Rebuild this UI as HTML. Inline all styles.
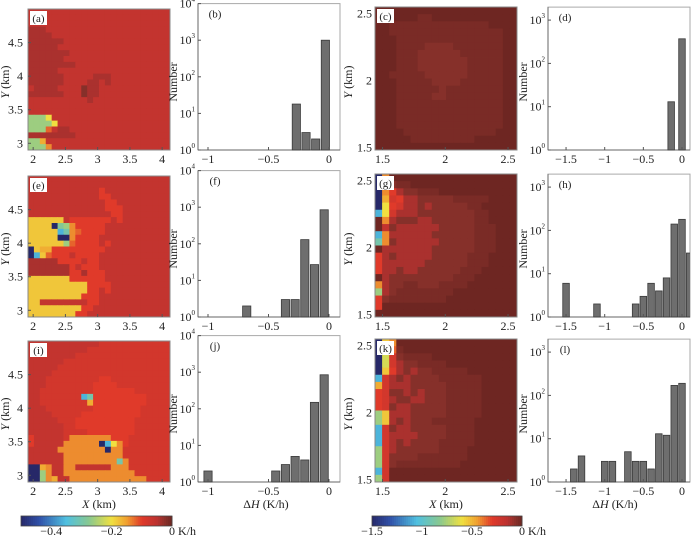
<!DOCTYPE html>
<html><head><meta charset="utf-8"><style>
html,body{margin:0;padding:0;background:#fff}
svg{display:block;font-family:"Liberation Serif","DejaVu Serif",serif}
svg text{font-family:"Liberation Serif","DejaVu Serif",serif}
</style></head><body>
<svg id="fig" width="700" height="537" viewBox="0 0 700 537" xmlns="http://www.w3.org/2000/svg" font-family="Liberation Serif, DejaVu Serif, serif">
<defs>
<clipPath id="clipL"><rect x="198" y="0" width="142" height="537"/></clipPath>
<clipPath id="clipR"><rect x="548" y="0" width="142" height="537"/></clipPath>
</defs>
</svg>
<script>
// ---------- data ----------
const mapA = ["wwwwwwwwwwwwwwwwwwwwwwww","wwwwwwwwwwwwwwwwwwwwwwww","wwwwwwwwwwwwwwwwwwwwwwww","xxxwwwwwwwwwwwwwwwwwwwww","xxxxwwwwwwwwwwwwwwwwwwww","xxxxxxwwwwwwwwwwwwwwwwww","xxxxxwwwwwwwwwwwwwwwwwww","xxxxxxxwwwwwwwwwwwwwwwww","xxxxxxwwwwwwwwwwwwwwwwww","xxxxxxxxwwwwwwwwwwwwwwww","xxxxxwwwwwwwwwwwwwwwwwww","xxxxxxwwwwwxxxwwwwwwwwww","xxxxxxwwwwxxwxwwwwwwwwww","wxxxxwwwwyxxwwwwwwwwwwww","xxxxxxwwwyxxwwwwwwwwwwww","wwwwwwwwwwxwwwwwwwwwwwww","wwwwwwwwwwwwwwwwwwwwwwww","wwwwwwwwwwwwwwwwwwwwwwww","mmmpwwwwwwwwwwwwwwwwwwww","mmmmpwwwwwwwwwwwwwwwwwww","mmmtwxxwwwwwwwwwwwwwwwww","xxxxxxxxwwwwwwwwwwwwwwww","mmrwwwwwwwwwwwwwwwwwwwww","mmmswwwwwwwwwwwwwwwwwwww"];
const mapE = ["wwwwwwwwwwwwwwwwwwwwwwww","wwwwwwwwwwwwwwwwwwwwwwww","wwwwwwwwwwwwuwwwwwwwwwww","wwwwwwwwwwwwuuwwwwwwwwww","wwwwwwwwwwwwwuuwwwwwwwww","wwwwwwwwwwwwwuuuwwwwwwww","wwwwwwwwwwwwwwuuwwwwwwww","qqqqqqwuuuuuuuwuwwwwwwww","qqqqalmsuuuuuwwwwwwwwwww","qqqqqhkstuuuuwwwwwwwwwww","qqqqqaasuuuuwwwwwwwwwwww","qqqqqqmtuuuuwuwwwwwwwwww","aqrruuuuuuuuuwwwwwwwwwww","ahqtuuuwuuuuwwwwwwwwwwww","xxxxxuuuuwuuwwwwwwwwwwww","xxxxxxxuwuuuwwwwwwwwwwww","xxxxxxxuuxuuuwwwwwwwwwww","qqqqqqquuuuuuwwwwwwwwwww","qqqqqqqqqquuuuwwwwwwwwww","qqqqqqqqqquuwuwwwwwwwwww","qqqqqqqqquuuwwwwwwwwwwww","qqwwwwwwwwuuwwwwwwwwwwww","qqqqqqqqquuwwwwwwwwwwwww","qqqqqqqquuwwwwwwwwwwwwww"];
const mapI = ["wwwwwwwwwwwwvvvvvvvvvvvv","wwwwwwwwwwvvvvvvvvvvvvvv","wwwwwwwwvvvvvvvvvvvvvvvv","wwwwwwvvvvvvvvvvvvvvvvvv","wwwwwvvvvvvvvvvvvvvvvvvv","wwwwvvvvvvvvvvvvvvvvvvvv","wwwvvvvvvvvvuuvvvvvvvvvv","wwwvvvvvvvvuuuuvvvvvvvvv","wwvvvvvvvvvuuuuuuuvvvvvv","wwvvvvvvvhkuuuuuuuuuvvvv","wwvvvvvvvvruuuuuuuuuvvvv","wwwvvvvvvvvuuuuuuuuvvvvv","wwwwvvvvvuuuuuuuuuuvvvvv","wwwwwvvvuuuuuuuuuuvvvvvv","wwwwwwvvuuuuuuuuuuvvvvvv","wwwwwwvvvvuuuuuuuuvvvvvv","uwwwwwvsssssssuuuvvvvvvv","uwwwwwssssssahpsuvvvvvvv","wwwwwssssssssassvvvvvvvv","wwwwwwssssssssssvvvvvvvv","wwwwwwsssssssssksvvvvvvv","aarswwsswwwwwwsssvvvvvvv","aamswwssssssssssssvvvvvv","aamsrwwsssssssssssssvvvv"];
const mapC = ["zzzzzzzzzzzzzzzzzzzz","zzzzzzYYzzzzzzzzzzzz","zzYYYYYYYYYYYYYYzzzz","zzYYYYYYYYYYYYYYYYzz","zzzYYYYYYYYYYYYYYYzz","zzzYYYYyyyyYYYYYYYzz","zzzYYYyyyyyyYYYYYYzz","zzzYYYyyyyyyyYYYYYzz","zzzYYYyyyyyyyYYYYYzz","zzYYYYYyyyyyyYYYYYzz","zzzYYYYYyyyyYYYYYYzz","zzzYYYYYYyYYYYYYYYzz","zzzYYYYYyyYYYYYYYYzz","zzzYYYYYYYYYYYYYYYzz","zzzYYYYYYYYYYYYYYYzz","zzzYYYYYYYYYYYYYYYzz","zzzYYYYYYYYYYYYYYYzz","zzzzYYYYYYYYYYYYYzzz","zzzzzYYYYYYYYYzzzzzz","zzzzzzzzzzzzzzzzzzzz"];
const mapG = ["aszzzzzzzzzzzzzzzzzz","asyYYzzzzzzzzzzzzzzz","asuxyyYYYzzzzzzzzzzz","arvuxxyyyyyYYYYYzzzz","apuvxxyxyyyyyYYzzzzz","hpvxxxyyyyyyyyYYzzzz","zsxyyyxxyyyyyyYYzzzz","zwyxxxxxxyyyyyYYYzzz","hsxxxxxxyyyyyyYYYzzz","ksyxxxxxxyyyyyYYYzzz","zxxxxxxxyyyyyyYYYzzz","uxyxxxxxyyyyyYYYzzzz","uxxxxxxyyyyyyYYYzzzz","uxxyxxyyyyyyYYYzzzzz","zxyyyyyyyyyYYYzzzzzz","sxyyYYyyyYYYYzzzzzzz","mxyYYYYYYYYzzzzzzzzz","uyYYYYYYYYzzzzzzzzzz","uzzzzzzzzzzzzzzzzzzz","zzzzzzzzzzzzzzzzzzzz"];
const mapK = ["aqszzzzzzzzzzzzzzzzz","aotYzzzzzzzzzzzzzzzz","aovyYYYYzzzzzzzzzzzz","aovxyyYYYYzzzzzzzzzz","aquxyxyyYYYYYzzzzzzz","hvxyxyyyyYYYYYYzzzzz","rvxxxyyyyyYYYYYzzzzz","uvyyxyxyyyYYYYYzzzzz","uvxyyxxyyyYYYYYzzzzz","uvyxxyyyyyYYYYYzzzzz","mqxxxyyyyyYYYYYzzzzz","mqxyxyyyYYYYYYzzzzzz","hvyxxyyyyyYYYYzzzzzz","hvxxxxyyyyYYYYzzzzzz","hvxyxyyyyYYYYYzzzzzz","mvxyyyyyyYYYYzzzzzzz","mvyyyyYYYYYYYzzzzzzz","mvyYYYYYYYYYzzzzzzzz","hvzzzzzzzzzzzzzzzzzz","mvzzzzzzzzzzzzzzzzzz"];

const binsB = [-0.27,-0.19,-0.11,-0.03];
const countsB = [18,3,2,1000];
const binsF = [-0.68,-0.36,-0.28,-0.20,-0.12,-0.04];
const countsF = [2,3,3,130,27,850];
const binsJ = [-1.0,-0.44,-0.36,-0.28,-0.20,-0.12,-0.04];
const countsJ = [2,2,3,5,4,150,850];
const binsD = [-0.14,0.0];
const countsD = [13,370];
const binsH = [-1.5,-1.1,-0.6,-0.5,-0.4,-0.3,-0.2,-0.1,0.0,0.1];
const countsH = [6,2,2,3,6,4,8,140,180,30];
const binsL = [-1.4,-1.3,-1.0,-0.9,-0.7,-0.6,-0.5,-0.4,-0.3,-0.2,-0.1,0.0];
const countsL = [2,4,3,3,5,3,3,2,13,12,170,190];

const tickLeftMapX = [2,2.5,3,3.5,4];
const tickLeftMapY = [3,3.5,4,4.5];
const tickRightMapX = [1.5,2,2.5];
const tickRightMapY = [1.5,2,2.5];
const tickLeftHistX = [-1,-0.5,0];
const tickRightHistX = [-1.5,-1,-0.5,0];
const cbLeftTicks = [-0.4,-0.2,0];
const cbRightTicks = [-1.5,-1,-0.5,0];

// ---------- helpers ----------
const NS = "http://www.w3.org/2000/svg";
const svg = document.getElementById("fig");
const FF = "Liberation Serif, DejaVu Serif, serif";
function el(tag, attrs, parent){
  const e = document.createElementNS(NS, tag);
  for (const k in attrs) e.setAttribute(k, attrs[k]);
  (parent||svg).appendChild(e); return e;
}
const stops = [[0,[38,40,104]],[0.12,[48,80,168]],[0.3,[80,192,224]],[0.45,[136,200,144]],[0.6,[240,224,64]],[0.7,[240,160,48]],[0.8,[224,58,42]],[0.9,[188,50,48]],[0.96,[134,48,42]],[1,[110,38,34]]];
function cmap(t){
  t=Math.max(0,Math.min(1,t));
  for(let i=1;i<stops.length;i++){
    if(t<=stops[i][0]){
      const a=stops[i-1],b=stops[i],f=(t-a[0])/(b[0]-a[0]);
      const c=a[1].map((v,j)=>Math.round(v+(b[1][j]-v)*f));
      return "rgb("+c.join(",")+")";
    }
  }
  return "rgb(110,38,34)";
}
function charT(ch){
  const code=ch.charCodeAt(0);
  if(code>=97) return (code-97)/25;
  return Math.min(1,(code-65+0.5)/25);
}
function fmt(v){ return (v<0?"\u2212":"")+String(Math.abs(v)); }
function text(x,y,s,anchor,size,parent){
  const t=el("text",{x:x,y:y,"text-anchor":anchor||"middle","font-size":size||12,fill:"#222","font-family":FF},parent);
  t.textContent=s; return t;
}

const rowsB = [150,317,482];
const heat = [[mapA,mapE,mapI],[mapC,mapG,mapK]];
const hist = [[[binsB,countsB],[binsF,countsF],[binsJ,countsJ]],[[binsD,countsD],[binsH,countsH],[binsL,countsL]]];
const labels = [["a","e","i"],["b","f","j"],["c","g","k"],["d","h","l"]];

// ---------- heatmaps ----------
function drawHeat(map, x0, w, B, h, name, label){
  const g=el("g",{});
  
  
  const nr=map.length, nc=map[0].length;
  const cw=w/nc, ch=h/nr;
  for(let r=0;r<nr;r++) for(let c=0;c<nc;c++){
    el("rect",{x:(x0+c*cw).toFixed(2),y:(B-h+r*ch).toFixed(2),width:(cw+0.4).toFixed(2),height:(ch+0.4).toFixed(2),fill:cmap(charT(map[r][c]))},g);
  }
  el("rect",{x:x0,y:B-h,width:w,height:h,fill:"none",stroke:"#888","stroke-width":1},g);
  el("rect",{x:x0+2,y:B-h+2,width:17,height:14,fill:"#fff"},g);
  text(x0+10.5,B-h+13,"("+label+")","middle",11,g);
}
function lmx(v){ return 28+(v-1.92)*64.5; }
function lmy(v,B){ return B-(v-2.9)*67.1; }
function rmx(v){ return 375+(v-1.44)*125.5; }
function rmy(v,B){ return B-(v-1.48)*134; }
for(let i=0;i<3;i++){
  const B=rowsB[i];
  drawHeat(heat[0][i],28,142,B,141,"heatmap-"+labels[0][i],labels[0][i]);
  drawHeat(heat[1][i],375,142,B,143,"heatmap-"+labels[2][i],labels[2][i]);
  const ga=el("g",{});
  
  
  tickLeftMapX.forEach(v=>{ text(lmx(v),B+13,String(v),"middle",12,ga); el("line",{x1:lmx(v),x2:lmx(v),y1:B,y2:B-3,stroke:"#555"},ga); });
  tickLeftMapY.forEach(v=>{ text(23,lmy(v,B)+4,String(v),"end",12,ga); el("line",{x1:28,x2:31,y1:lmy(v,B),y2:lmy(v,B),stroke:"#555"},ga); });
  const yl=text(0,0,"","middle",12,ga);
  yl.setAttribute("transform","translate(9,"+(B-68)+") rotate(-90)");
  yl.innerHTML='<tspan font-style="italic">Y</tspan> (km)';
  const gb=el("g",{});
  
  
  tickRightMapX.forEach(v=>{ text(rmx(v),B+13,String(v),"middle",12,gb); el("line",{x1:rmx(v),x2:rmx(v),y1:B,y2:B-3,stroke:"#555"},gb); });
  tickRightMapY.forEach(v=>{ text(372,rmy(v,B)+4,String(v),"end",12,gb); });
  const yl2=text(0,0,"","middle",12,gb);
  yl2.setAttribute("transform","translate(352,"+(B-68)+") rotate(-90)");
  yl2.innerHTML='<tspan font-style="italic">Y</tspan> (km)';
}
["x-axis-title-left-map","x-axis-title-right-map"].forEach((n,k)=>{
  const t=text(k?446:99,508,"","middle",12);
  t.innerHTML='<tspan font-style="italic">X</tspan>  (km)';
  
  
});

// ---------- histograms ----------
function drawHist(bins, counts, x0, zeroX, pxu, B, dec, ndec, bw, name, label, clip, xt){
  const g=el("g",{});
  
  
  const top=B-ndec*dec;
  el("rect",{x:x0,y:top,width:142,height:B-top,fill:"#fff",stroke:"#aaa","stroke-width":1},g);
  el("line",{x1:x0,x2:x0,y1:top,y2:B,stroke:"#666"},g);
  el("line",{x1:x0,x2:x0+142,y1:B,y2:B,stroke:"#666"},g);
  const bg=el("g",{"clip-path":"url(#"+clip+")"},g);
  for(let i=0;i<bins.length;i++){
    const xl=zeroX+(bins[i]-bw/2)*pxu, yt=B-Math.log10(counts[i])*dec;
    const r=el("rect",{x:xl.toFixed(2),y:yt.toFixed(2),width:(bw*pxu).toFixed(2),height:(B-yt).toFixed(2),fill:"#6e6e6e",stroke:"#3a3a3a","stroke-width":0.8},bg);
    
    
  }
  for(let k=0;k<=ndec;k++){
    const y=B-k*dec;
    if(y<top-1) continue;
    const t=text(x0-3,y+4,"","end",12,g);
    t.innerHTML='10<tspan font-size="7" dy="-6">'+k+'</tspan>';
    el("line",{x1:x0,x2:x0+3,y1:y,y2:y,stroke:"#555"},g);
  }
  xt.forEach(v=>{ const x=zeroX+v*pxu; text(x,B+13,fmt(v),"middle",12,g); el("line",{x1:x,x2:x,y1:B,y2:B-3,stroke:"#555"},g); });
  text(x0+17,top+14,"("+label+")","middle",11,g);
  const yl=text(0,0,"Number","middle",12,g);
  yl.setAttribute("transform","translate("+(x0-21)+","+(B-68)+") rotate(-90)");
}
for(let i=0;i<3;i++){
  const B=rowsB[i];
  drawHist(hist[0][i][0],hist[0][i][1],198,329,121,B,36.6,4,0.068,"histogram-"+labels[1][i],labels[1][i],"clipL",tickLeftHistX);
  drawHist(hist[1][i][0],hist[1][i][1],548,682,77.3,B,43.3,3.3,0.085,"histogram-"+labels[3][i],labels[3][i],"clipR",tickRightHistX);
}
[[266,"x-axis-title-left-hist"],[615,"x-axis-title-right-hist"]].forEach(p=>{
  const t=text(p[0],508,"","middle",12);
  t.innerHTML='\u0394<tspan font-style="italic">H</tspan>  (K/h)';
  
  
});

// ---------- colorbars ----------
function drawCb(x0,w,vmin,ticks,name){
  const g=el("g",{});
  
  
  const n=75;
  for(let i=0;i<n;i++) el("rect",{x:(x0+i*w/n).toFixed(2),y:516,width:(w/n+0.4).toFixed(2),height:10,fill:cmap((i+0.5)/n)},g);
  el("rect",{x:x0,y:516,width:w,height:10,fill:"none",stroke:"#444","stroke-width":0.8},g);
  ticks.forEach(v=>{
    const x=x0+(v-vmin)/(-vmin)*w;
    if(v===0){ text(x-3,535,"0  K/h","start",12,g); }
    else text(x,535,fmt(v),"middle",12,g);
  });
}
drawCb(21,151,-0.5,cbLeftTicks,"colorbar-left");
drawCb(372,150,-1.5,cbRightTicks,"colorbar-right");
</script>
</body></html>
